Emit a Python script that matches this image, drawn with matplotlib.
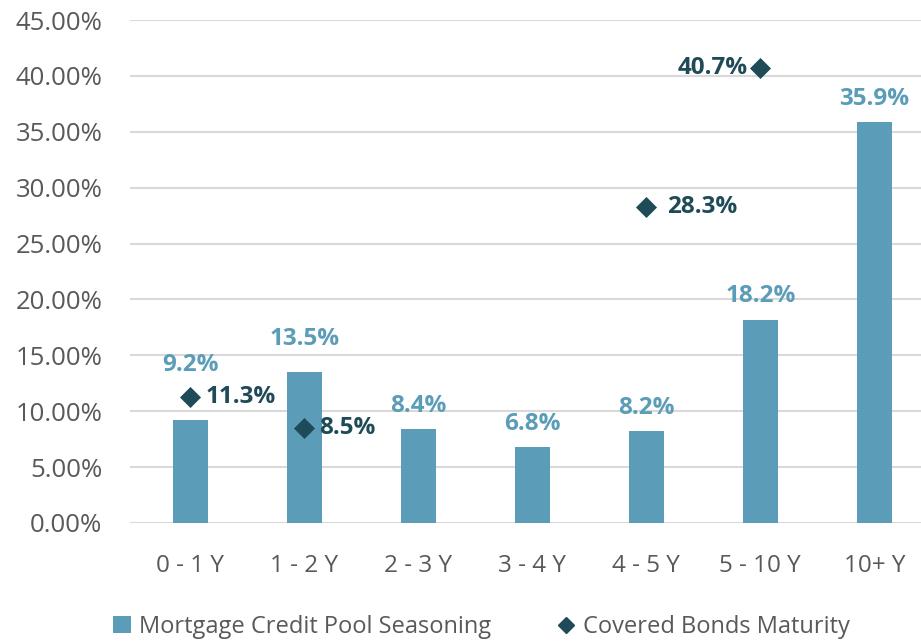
import matplotlib
matplotlib.use('Agg')
import matplotlib.pyplot as plt
from matplotlib.lines import Line2D
from matplotlib.patches import Patch
from matplotlib.ticker import FuncFormatter, MultipleLocator

plt.rcParams['font.family'] = ['Open Sans', 'DejaVu Sans']

# ── data ─────────────────────────────────────────────────────────────────────
buckets = ["0 - 1 Y", "1 - 2 Y", "2 - 3 Y", "3 - 4 Y", "4 - 5 Y", "5 - 10 Y", "10+ Y"]
seasoning = [9.2, 13.5, 8.4, 6.8, 8.2, 18.2, 35.9]

maturity_idx = [0, 1, 4, 5]
maturity = [11.3, 8.5, 28.3, 40.7]

BAR_C = "#5b9db8"
DIA_C = "#1f4a57"
GRID_C = "#d9d9d9"
TEXT_C = "#595959"

fig = plt.figure(figsize=(9.21, 6.42), dpi=100)
ax = fig.add_axes([130 / 921, 1 - 523 / 642, (921 - 130) / 921, (523 - 20) / 642])

x = list(range(len(buckets)))
ax.bar(x, seasoning, width=0.31, color=BAR_C, zorder=3)
ax.scatter(maturity_idx, maturity, marker="D", s=115, color=DIA_C, zorder=4,
           linewidths=0)

# bar value labels (a couple are nudged up to clear neighbouring marks)
lift = {0: 3.9, 1: 1.9}
for i, v in enumerate(seasoning):
    ax.text(i, v + lift.get(i, 1.0), f"{v:.1f}%", ha="center", va="bottom",
            fontsize=17.5, fontweight="bold", color=BAR_C, zorder=5)

# diamond value labels
for i, v in zip(maturity_idx, maturity):
    if v > 40:
        ax.text(i - 0.11, v, f"{v:.1f}%", ha="right", va="center",
                fontsize=17.5, fontweight="bold", color=DIA_C, zorder=5)
    else:
        dx = 0.18 if v > 20 else 0.13
        ax.text(i + dx, v, f"{v:.1f}%", ha="left", va="center",
                fontsize=17.5, fontweight="bold", color=DIA_C, zorder=5)

ax.set_xlim(-0.53, 6.41)
ax.set_ylim(0, 45)
ax.yaxis.set_major_locator(MultipleLocator(5))
ax.yaxis.set_major_formatter(FuncFormatter(lambda v, _: f"{v:.2f}%"))
ax.set_xticks(x)
ax.set_xticklabels(buckets)
ax.grid(axis="y", color=GRID_C, linewidth=1.5, zorder=0)
ax.set_axisbelow(True)
for s in ax.spines.values():
    s.set_visible(False)
ax.tick_params(axis="both", length=0, labelcolor=TEXT_C)
ax.tick_params(axis="x", pad=22, labelsize=17.5)
ax.tick_params(axis="y", pad=20, labelsize=18.5)

handles = [
    Patch(facecolor=BAR_C, edgecolor="none", label="Mortgage Credit Pool Seasoning"),
    Line2D([], [], marker="D", linestyle="none", color=DIA_C, markersize=8,
           label="Covered Bonds Maturity"),
]
fig.legend(handles=handles, loc="center", bbox_to_anchor=(0.523, 1 - 627 / 642),
           ncol=2, frameon=False, fontsize=17, labelcolor=TEXT_C,
           handlelength=0.75, handletextpad=0.35, columnspacing=2.8)

fig.savefig("out.png", dpi=100, facecolor="white")
